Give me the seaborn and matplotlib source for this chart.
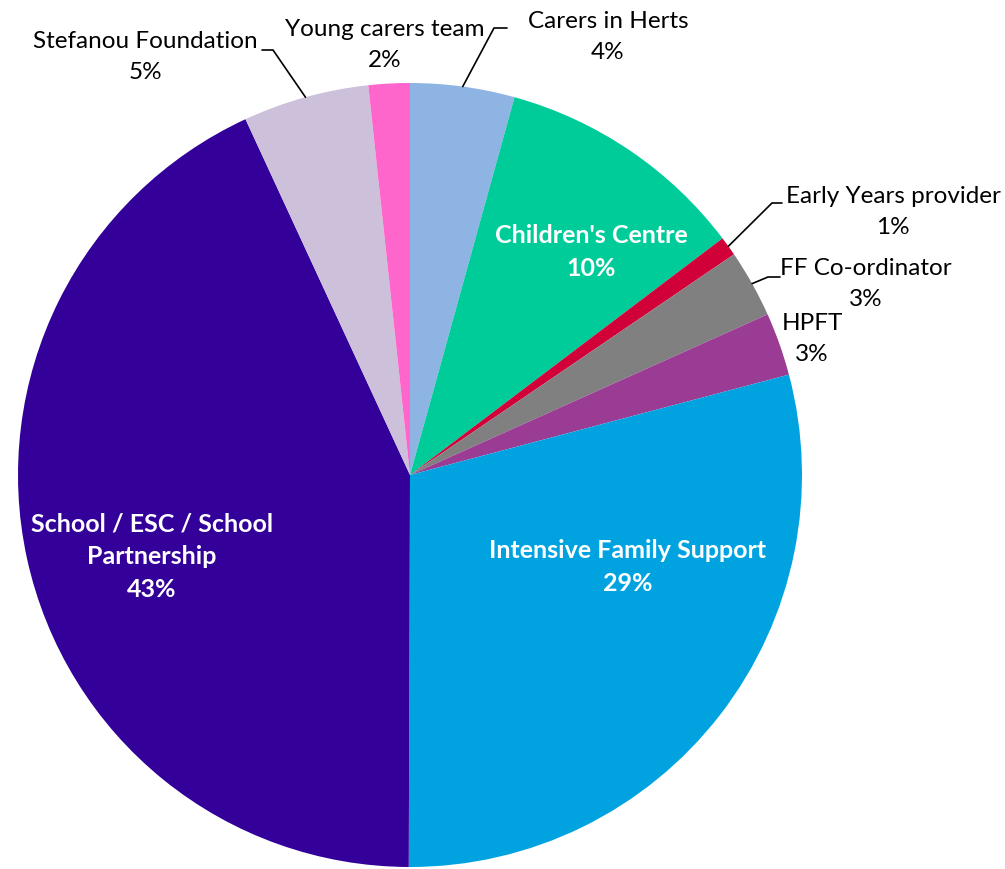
import matplotlib
matplotlib.use("Agg")
import matplotlib.pyplot as plt
import seaborn as sns
import numpy as np

# referral sources, clockwise from 12 o'clock
sources = ["Carers in Herts", "Children's Centre", "Early Years provider",
           "FF Co-ordinator", "HPFT", "Intensive Family Support",
           "School / ESC / School\nPartnership", "Stefanou Foundation",
           "Young carers team"]
shares = [4.3, 10.4, 0.8, 2.8, 2.6, 29.2, 43.1, 5.2, 1.7]
colours = ["#8EB4E3", "#00CC99", "#D20038", "#808080", "#9B3C94",
           "#00A3E0", "#330099", "#CCC0DA", "#FF66CC"]

W, H = 1005, 869
sns.set_theme(style="white")
plt.rcParams["font.family"] = ["Lato", "DejaVu Sans"]

fig = plt.figure(figsize=(W / 100, H / 100), dpi=100)
ax = fig.add_axes([0, 0, 1, 1])

cx, cy, r = 410, H - 475, 392
wedges, _ = ax.pie(shares, colors=colours, startangle=90, counterclock=False,
                   center=(cx, cy), radius=r, frame=True,
                   wedgeprops=dict(linewidth=0))
ax.set_xlim(0, W)
ax.set_ylim(0, H)
ax.set_aspect("equal")
ax.axis("off")

labels = [f"{s}\n{round(v)}%" for s, v in zip(sources, shares)]

# label placement (pixel coords, y from top), inside flag, leader line
place = {
    0: ((608, 37), False, [(494, 28), (507, 28)]),
    1: ((591, 252), True, None),
    2: ((893, 212), False, [(772, 203), (782, 203)]),
    3: ((866, 284), False, [(768, 277), (780, 277)]),
    4: ((812, 339), False, None),
    5: ((628, 567), True, None),
    6: ((152, 557), True, None),
    7: ((145, 57), False, [(273, 50), (262, 50)]),
    8: ((385, 45), False, None),
}

for i, w in enumerate(wedges):
    (tx, ty), inside, line = place[i]
    if inside:
        ax.text(tx, H - ty, labels[i], ha="center", va="center", color="white",
                fontsize=18, fontweight="bold", linespacing=1.5)
    else:
        ax.text(tx, H - ty, labels[i], ha="center", va="center", color="black",
                fontsize=17.5, linespacing=1.6)
    if line:
        ang = np.deg2rad((w.theta1 + w.theta2) / 2)
        x0 = cx + r * np.cos(ang)
        y0 = cy + r * np.sin(ang)
        xs = [x0] + [p[0] for p in line]
        ys = [y0] + [H - p[1] for p in line]
        ax.plot(xs, ys, color="black", lw=1.2)

fig.savefig("out.png", dpi=100, facecolor="white")
